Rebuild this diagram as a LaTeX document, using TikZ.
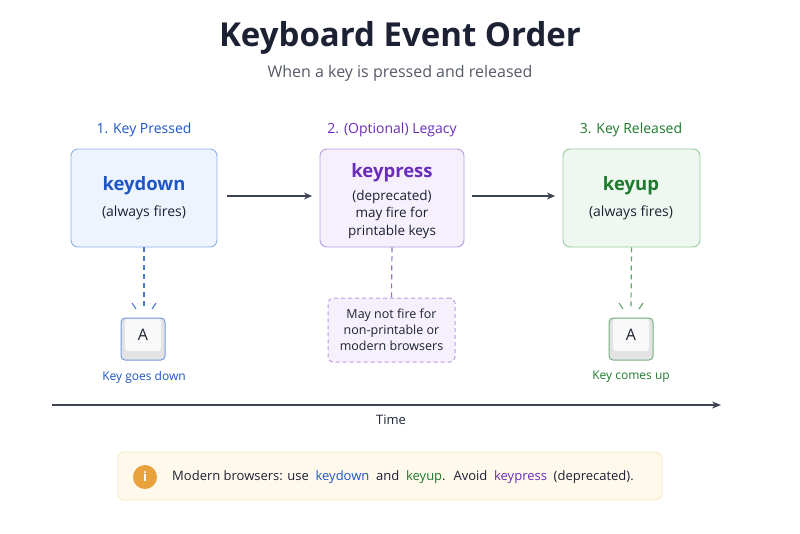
\documentclass[tikz,border=0pt]{standalone}
\usepackage{fontspec}
\setmainfont{Open Sans}
\usetikzlibrary{arrows.meta}
\definecolor{bl}{HTML}{1E56C8}
\definecolor{blf}{HTML}{EEF4FD}
\definecolor{bld}{HTML}{8FB0E6}
\definecolor{pu}{HTML}{6A2DB8}
\definecolor{puf}{HTML}{F5F0FC}
\definecolor{pud}{HTML}{B89BE0}
\definecolor{gr}{HTML}{1E7A2E}
\definecolor{grf}{HTML}{EFF8F0}
\definecolor{grd}{HTML}{96CC9E}
\definecolor{ink}{HTML}{1C2233}
\definecolor{gy}{HTML}{555A66}
\definecolor{orn}{HTML}{E9A23B}
\definecolor{cream}{HTML}{FFF9EC}
\definecolor{crb}{HTML}{F6E6C4}
\begin{document}
\begin{tikzpicture}[x=1pt,y=-1pt,
  box/.style={draw,rounded corners=7pt,line width=0.9pt,minimum width=#1,minimum height=98pt,inner sep=0pt},
  hd/.style={font=\fontsize{14}{16}\selectfont},
  big/.style={font=\fontsize{18.5}{20}\selectfont\bfseries},
  sm/.style={font=\fontsize{14}{17}\selectfont,text=ink,align=center},
  arr/.style={-{Stealth[length=8pt,width=7pt]},line width=1.3pt,draw=ink!85},
  dsh/.style={dashed,dash pattern=on 5pt off 4pt,line width=1.2pt},
  key/.style={draw=#1,fill=gray!22,rounded corners=4pt,line width=1pt,minimum width=44pt,minimum height=42pt},
  keyface/.style={draw=none,fill=gray!5,rounded corners=3pt,minimum width=36pt,minimum height=32pt,font=\fontsize{16}{18}\selectfont,text=ink},
]
\useasboundingbox (0,0) rectangle (800,533);
\node[font=\fontsize{33}{36}\selectfont\bfseries,text=ink] (title) at (400,38) {Keyboard Event Order};
\node[font=\fontsize{16}{18}\selectfont,text=gy] (sub) at (400,73) {When a key is pressed and released};
% headers
\node[hd,text=bl] (h1) at (144,130) {1. Key Pressed};
\node[hd,text=pu] (h2) at (392,130) {2. (Optional) Legacy};
\node[hd,text=gr] (h3) at (631,130) {3. Key Released};
% boxes
\node[box=146pt,draw=bld,fill=blf] (b1) at (144,198) {};
\node[box=144pt,draw=pud,fill=puf] (b2) at (392,198) {};
\node[box=137pt,draw=grd,fill=grf] (b3) at (631.5,198) {};
\node[big,text=bl] (t1) at (144,186) {keydown};
\node[sm] (s1) at (144,213) {(always fires)};
\node[big,text=pu] (t2) at (392,173) {keypress};
\node[sm,font=\fontsize{13.5}{17.5}\selectfont] (s2) at (392,214) {(deprecated)\\may fire for\\printable keys};
\node[big,text=gr] (t3) at (631,186) {keyup};
\node[sm] (s3) at (631,213) {(always fires)};
\draw[arr] (227,196) -- (312,196);
\draw[arr] (472,196) -- (555,196);
% keys
\node[key=bl!60] (k1) at (143,339) {};
\node[keyface] (k1i) at (143,335) {A};
\node[key=gr!60] (k3) at (631,339) {};
\node[keyface] (k3i) at (631,335) {A};
\draw[dsh,draw=bl!80] (b1.south) -- (144,308);
\draw[line width=1.1pt,bl!80] (132,303)--(136,309) (156,303)--(152,309);
\draw[dsh,draw=gr!70] (b3.south) -- (631,308);
\draw[line width=1.1pt,gr!70] (619,303)--(623,309) (643,303)--(639,309);
\node[font=\fontsize{12}{13}\selectfont,text=bl] (l1) at (144,377) {Key goes down};
\node[font=\fontsize{12}{13}\selectfont,text=gr] (l3) at (631,377) {Key comes up};
% note
\node[draw=pud,fill=puf,dashed,dash pattern=on 4pt off 3pt,line width=1pt,rounded corners=5pt,minimum width=127pt,minimum height=64pt,align=center,font=\fontsize{12.5}{16}\selectfont,text=ink] (n2) at (391.5,330) {May not fire for\\non-printable or\\modern browsers};
\draw[dsh,draw=pu!70] (b2.south) -- (n2.north);
% time
\coordinate (ta) at (52,405);
\coordinate (tb) at (721,405);
\draw[-{Stealth[length=9pt,width=7pt]},line width=1.3pt,ink!85] (ta) -- (tb);
\node[font=\fontsize{13}{15}\selectfont,text=ink] (time) at (391,420) {Time};
% info
\node[draw=crb,fill=cream,rounded corners=6pt,line width=0.8pt,minimum width=544pt,minimum height=48pt] (info) at (390,476) {};
\node[circle,fill=orn,minimum size=24pt,inner sep=0pt,text=white,font=\fontsize{13}{15}\selectfont\bfseries] (ic) at (145,477) {i};
\node[anchor=west,font=\fontsize{13}{15}\selectfont,text=ink,inner sep=0pt] (it) at (172,477) {Modern browsers: use \ \textcolor{bl}{keydown} \ and \ \textcolor{gr}{keyup}. \ Avoid \ \textcolor{pu}{keypress} \ (deprecated).};
\end{tikzpicture}
\end{document}
